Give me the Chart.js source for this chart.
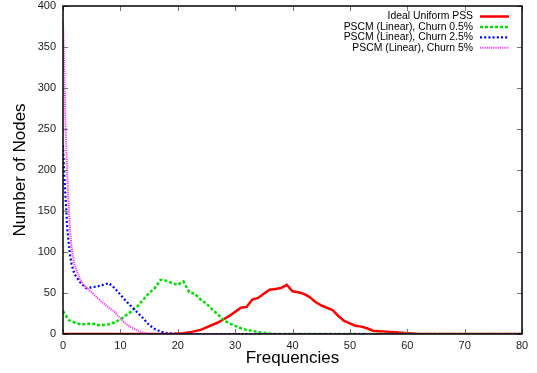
<!DOCTYPE html>
<html>
<head>
<meta charset="utf-8">
<script src="https://cdn.jsdelivr.net/npm/chart.js@4/dist/chart.umd.min.js"></script>
<style>
  html, body { margin: 0; padding: 0; background: #ffffff; }
  #wrap { width: 537px; height: 373px; }
</style>
</head>
<body>
<div id="wrap"><canvas id="c" width="537" height="373"></canvas></div>
<script>
// ---- data ----
const xTickValues = [0, 10, 20, 30, 40, 50, 60, 70, 80];
const yTickValues = [0, 50, 100, 150, 200, 250, 300, 350, 400];

const seriesLabels = [
  'Ideal Uniform PSS',
  'PSCM (Linear), Churn 0.5%',
  'PSCM (Linear), Churn 2.5%',
  'PSCM (Linear), Churn 5%'
];

const idealFreq = [0, 19, 20, 21, 22, 23, 24, 25, 26, 27, 28, 29, 30, 31, 32, 33, 34, 35, 36, 37, 38, 39, 40,
  41, 42, 43, 44, 45, 46, 47, 48, 49, 50, 51, 52, 53, 54, 55, 56, 57, 58, 59, 60, 61, 62, 80];
const idealNodes = [0, 0, 0.5, 1, 2, 3.5, 5, 8, 11, 14, 18, 22, 27, 32, 33, 42, 44, 49, 54, 55, 56, 60, 52,
  51, 49, 45, 39, 35, 32, 29, 22, 16, 13, 10, 9, 7, 4, 3.5, 3, 2.5, 2, 1.5, 1, 0.5, 0, 0];

const churn05Freq = [0, 1, 2, 3, 4, 5, 6, 7, 8, 9, 10, 11, 12, 13, 14, 15, 16, 17, 18, 19, 20,
  21, 22, 23, 24, 25, 26, 27, 28, 29, 30, 31, 32, 33, 34, 35, 36, 37, 80];
const churn05Nodes = [28, 17, 14, 12, 12, 13, 11, 11, 12, 14, 18, 23, 28, 34, 42, 50, 56, 66, 65, 62, 60,
  64, 51, 49, 42, 37, 30, 24, 17, 13, 10, 7, 5, 4, 2.5, 1.5, 0.5, 0, 0];

const churn25Freq = [0, 0.25, 0.5, 0.75, 1, 1.25, 1.5, 2, 3, 4, 5, 6, 7, 8, 9, 10, 11, 12, 13, 14, 15,
  16, 17, 18, 19, 20, 80];
const churn25Nodes = [230, 190, 160, 128, 110, 95, 85, 73, 63, 56, 57, 58, 60, 62, 56, 48, 40, 33, 26, 19, 11,
  6, 3, 1, 0.5, 0, 0];

const churn5Freq = [0, 0.2, 0.4, 0.6, 0.8, 1, 1.25, 1.5, 2, 3, 4, 5, 6, 7, 8, 9, 10, 11, 12, 13, 14, 15, 80];
const churn5Nodes = [380, 330, 265, 220, 185, 155, 125, 105, 84, 66, 57, 51, 44, 38, 32, 27, 19, 12, 8, 4, 1.5, 0, 0];

// ---- build chart ----
function pts(xs, ys) { return xs.map((x, i) => ({ x: x, y: ys[i] })); }

const FONT = 'Liberation Sans, Arial, Helvetica, sans-serif';

const datasets = [
  { label: seriesLabels[3], data: pts(churn5Freq, churn5Nodes), borderColor: '#ff33ff', borderWidth: 2, borderDash: [1.2, 1] },
  { label: seriesLabels[2], data: pts(churn25Freq, churn25Nodes), borderColor: '#0000ff', borderWidth: 2.2, borderDash: [2, 2.2] },
  { label: seriesLabels[1], data: pts(churn05Freq, churn05Nodes), borderColor: '#00e000', borderWidth: 2.5, borderDash: [3, 2] },
  { label: seriesLabels[0], data: pts(idealFreq, idealNodes), borderColor: '#ff0000', borderWidth: 2.5, borderDash: [] }
];

const frameAndLegend = {
  id: 'frameAndLegend',
  afterDatasetsDraw(chart) {
    const ctx = chart.ctx;
    const a = chart.chartArea;
    const xs = chart.scales.x, ys = chart.scales.y;
    ctx.save();
    ctx.strokeStyle = '#777777';
    ctx.lineWidth = 1;
    ctx.beginPath();
    xTickValues.forEach(v => {
      const px = Math.round(xs.getPixelForValue(v)) + 0.5;
      ctx.moveTo(px, a.bottom); ctx.lineTo(px, a.bottom - 5);
      ctx.moveTo(px, a.top); ctx.lineTo(px, a.top + 5);
    });
    yTickValues.forEach(v => {
      const py = Math.round(ys.getPixelForValue(v)) + 0.5;
      ctx.moveTo(a.left, py); ctx.lineTo(a.left + 5, py);
      ctx.moveTo(a.right, py); ctx.lineTo(a.right - 5, py);
    });
    ctx.stroke();
    ctx.strokeStyle = '#000000';
    ctx.lineWidth = 1.5;
    ctx.strokeRect(a.left, a.top, a.right - a.left, a.bottom - a.top);
    ctx.font = '10.4px ' + FONT;
    ctx.textAlign = 'right';
    ctx.textBaseline = 'middle';
    const order = [3, 2, 1, 0];
    order.forEach((di, row) => {
      const ds = chart.data.datasets[di];
      const y = 16.5 + row * 10.4;
      ctx.fillStyle = '#000000';
      ctx.fillText(ds.label, 473, y);
      ctx.strokeStyle = ds.borderColor;
      ctx.lineWidth = ds.borderWidth;
      ctx.setLineDash(ds.borderDash);
      ctx.beginPath();
      ctx.moveTo(480, y); ctx.lineTo(509, y);
      ctx.stroke();
      ctx.setLineDash([]);
    });
    ctx.restore();
  }
};

new Chart(document.getElementById('c'), {
  type: 'line',
  data: { datasets: datasets },
  options: {
    responsive: false,
    animation: false,
    layout: { padding: { top: 6, right: 15, left: 0, bottom: 0 } },
    plugins: { legend: { display: false }, tooltip: { enabled: false } },
    elements: { point: { radius: 0 }, line: { tension: 0, borderCapStyle: 'butt' } },
    scales: {
      x: {
        type: 'linear', min: 0, max: 80,
        afterBuildTicks: s => { s.ticks = xTickValues.map(v => ({ value: v })); },
        ticks: { color: '#222222', font: { size: 11, family: FONT }, padding: 5, maxRotation: 0, autoSkip: false },
        grid: { display: false, drawTicks: false },
        border: { display: false },
        title: { display: true, text: 'Frequencies', color: '#000000', font: { size: 17, family: FONT }, padding: { top: 0, bottom: 4 } },
        afterFit: s => { s.height = 39; s.paddingLeft = 0; s.paddingRight = 0; }
      },
      y: {
        type: 'linear', min: 0, max: 400,
        afterBuildTicks: s => { s.ticks = yTickValues.map(v => ({ value: v })); },
        ticks: { color: '#222222', font: { size: 11, family: FONT }, padding: 7, autoSkip: false },
        grid: { display: false, drawTicks: false },
        border: { display: false },
        title: { display: true, text: 'Number of Nodes', color: '#000000', font: { size: 17, family: FONT }, padding: { top: 10, bottom: 0 } },
        afterFit: s => { s.width = 63; s.paddingTop = 0; s.paddingBottom = 0; }
      }
    }
  },
  plugins: [frameAndLegend]
});
</script>
</body>
</html>
